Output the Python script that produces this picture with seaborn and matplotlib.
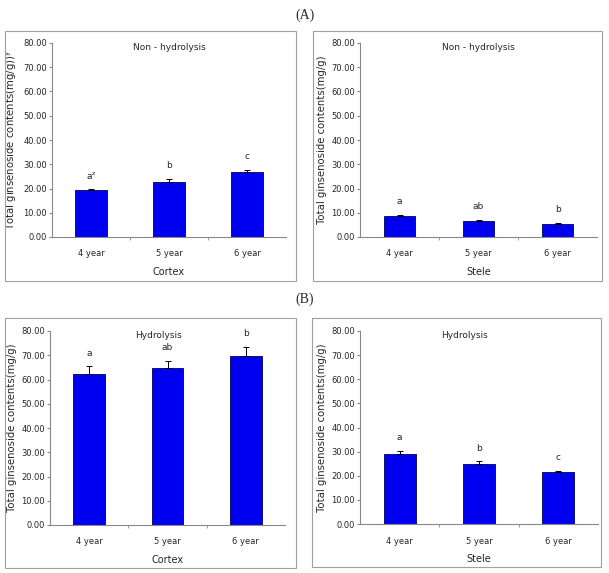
import numpy as np
import pandas as pd
import seaborn as sns
import matplotlib.pyplot as plt
from matplotlib.patches import Rectangle

# data
years = ["4 year", "5 year", "6 year"]

cortex_nonhyd = [19.3, 22.8, 26.8]
cortex_nonhyd_err = [0.6, 1.0, 1.0]
cortex_nonhyd_lbl = ["a$^{\\mathregular{z}}$", "b", "c"]

stele_nonhyd = [8.8, 6.8, 5.4]
stele_nonhyd_err = [0.4, 0.2, 0.3]
stele_nonhyd_lbl = ["a", "ab", "b"]

cortex_hyd = [62.2, 64.8, 69.8]
cortex_hyd_err = [3.2, 2.8, 3.5]
cortex_hyd_lbl = ["a", "ab", "b"]

stele_hyd = [29.2, 25.0, 21.4]
stele_hyd_err = [1.2, 1.0, 0.7]
stele_hyd_lbl = ["a", "b", "c"]

sns.set_style("white")
plt.rcParams['font.family'] = ['Liberation Sans Narrow', 'DejaVu Sans']

W, H = 609, 573
fig = plt.figure(figsize=(W / 100, H / 100), dpi=100)


def px_axes(l, r, top, bot):
    return fig.add_axes([l / W, 1 - bot / H, (r - l) / W, (bot - top) / H])


def frame(l, r, top, bot):
    fig.patches.append(Rectangle((l / W, 1 - bot / H), (r - l) / W, (bot - top) / H,
                                 transform=fig.transFigure, fill=False,
                                 edgecolor="#a0a0a0", lw=0.8))


panels = [
    # values, err, labels, title, title x, xlabel, ylabel, axes px, frame px
    (cortex_nonhyd, cortex_nonhyd_err, cortex_nonhyd_lbl, "Non - hydrolysis", 0.5, "Cortex",
     "Total ginsenoside contents(mg/g))$^{\\mathregular{y}}$", (52, 286, 43, 237), (5, 296, 31, 281)),
    (stele_nonhyd, stele_nonhyd_err, stele_nonhyd_lbl, "Non - hydrolysis", 0.5, "Stele",
     "Total ginsenoside contents(mg/g)", (360, 597, 43, 237), (313, 602, 31, 281)),
    (cortex_hyd, cortex_hyd_err, cortex_hyd_lbl, "Hydrolysis", 0.46, "Cortex",
     "Total ginsenoside contents(mg/g)", (50, 285, 331, 525), (5, 296, 318, 568)),
    (stele_hyd, stele_hyd_err, stele_hyd_lbl, "Hydrolysis", 0.44, "Stele",
     "Total ginsenoside contents(mg/g)", (360, 598, 331, 524), (312, 601, 318, 567)),
]

for vals, errs, lbls, title, tx, xlab, ylab, apx, fpx in panels:
    frame(*fpx)
    ax = px_axes(*apx)
    df = pd.DataFrame({"year": years, "value": vals})
    sns.barplot(data=df, x="year", y="value", ax=ax, color="#0000f0",
                saturation=1, width=0.4, edgecolor="#000060", linewidth=0.6,
                errorbar=None)
    xs = np.arange(len(years))
    ax.errorbar(xs, vals, yerr=[np.zeros(len(errs)), errs], fmt="none",
                ecolor="black", elinewidth=0.7, capsize=2, capthick=0.7)
    for x, v, e, t in zip(xs, vals, errs, lbls):
        ax.text(x, v + e + 5.5, t, ha="center", va="center", fontsize=6.5)
    ax.set_xlim(-0.5, 2.5)
    ax.set_ylim(0, 80)
    ax.set_yticks(np.arange(0, 81, 10))
    ax.set_yticklabels([f"{t:.2f}" for t in np.arange(0, 81, 10)], fontsize=6)
    ax.set_xticks(xs)
    ax.set_xticklabels(years, fontsize=6)
    ax.set_xticks([0.5, 1.5], minor=True)
    ax.tick_params(axis="x", which="major", length=0, pad=9)
    ax.tick_params(axis="x", which="minor", length=2.5, direction="out", color="#888888", bottom=True)
    ax.tick_params(axis="y", length=2.2, direction="out", color="#888888", left=True, pad=1.5)
    for s in ["top", "right"]:
        ax.spines[s].set_visible(False)
    for s in ["left", "bottom"]:
        ax.spines[s].set_color("#888888")
        ax.spines[s].set_linewidth(0.8)
    ax.text(tx, 0.975, title, transform=ax.transAxes, ha="center", va="center", fontsize=6.5)
    ax.set_xlabel(xlab, fontsize=7, labelpad=6)
    ax.set_ylabel(ylab, fontsize=7.3, labelpad=3,
                  family=["DejaVu Sans"])

fig.text(0.5, 1 - 15 / H, "(A)", ha="center", va="center", fontsize=10,
         family=["Liberation Serif", "DejaVu Serif"])
fig.text(0.5, 1 - 299 / H, "(B)", ha="center", va="center", fontsize=10,
         family=["Liberation Serif", "DejaVu Serif"])

fig.savefig("out.png", dpi=100)
